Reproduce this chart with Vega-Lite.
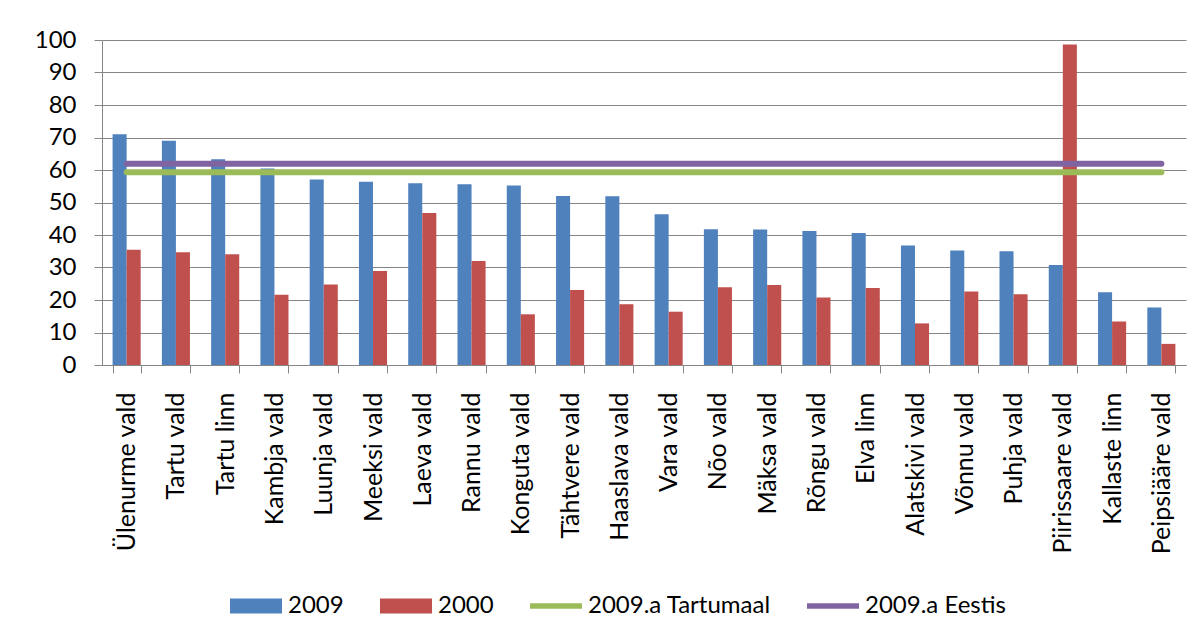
{
  "$schema": "https://vega.github.io/schema/vega-lite/v6.json",
  "width": 1084,
  "height": 325,
  "autosize": {"type": "none"},
  "padding": {"left": 102, "top": 40, "right": 18, "bottom": 276},
  "background": "white",
  "config": {
    "font": "Lato",
    "view": {"stroke": null},
    "axis": {"labelFont": "Lato", "labelFontSize": 24, "labelColor": "#000000", "domainColor": "#868686", "tickColor": "#868686", "gridColor": "#868686", "gridOpacity": 1, "domainWidth": 1, "tickWidth": 1, "gridWidth": 1},
    "legend": {"labelFont": "Lato", "labelFontSize": 24, "labelColor": "#000000", "padding": 0, "labelLimit": 400}
  },
  "datasets": {
    "tulbad": [
      {"vald": "Ülenurme vald", "seeria": "2009", "vaartus": 71.0},
      {"vald": "Ülenurme vald", "seeria": "2000", "vaartus": 35.5},
      {"vald": "Tartu vald", "seeria": "2009", "vaartus": 69.0},
      {"vald": "Tartu vald", "seeria": "2000", "vaartus": 34.7},
      {"vald": "Tartu linn", "seeria": "2009", "vaartus": 63.3},
      {"vald": "Tartu linn", "seeria": "2000", "vaartus": 34.1},
      {"vald": "Kambja vald", "seeria": "2009", "vaartus": 60.5},
      {"vald": "Kambja vald", "seeria": "2000", "vaartus": 21.6},
      {"vald": "Luunja vald", "seeria": "2009", "vaartus": 57.1},
      {"vald": "Luunja vald", "seeria": "2000", "vaartus": 24.8},
      {"vald": "Meeksi vald", "seeria": "2009", "vaartus": 56.4},
      {"vald": "Meeksi vald", "seeria": "2000", "vaartus": 28.9},
      {"vald": "Laeva vald", "seeria": "2009", "vaartus": 55.9},
      {"vald": "Laeva vald", "seeria": "2000", "vaartus": 46.8},
      {"vald": "Rannu vald", "seeria": "2009", "vaartus": 55.6},
      {"vald": "Rannu vald", "seeria": "2000", "vaartus": 32.0},
      {"vald": "Konguta vald", "seeria": "2009", "vaartus": 55.2},
      {"vald": "Konguta vald", "seeria": "2000", "vaartus": 15.6},
      {"vald": "Tähtvere vald", "seeria": "2009", "vaartus": 52.0},
      {"vald": "Tähtvere vald", "seeria": "2000", "vaartus": 23.1},
      {"vald": "Haaslava vald", "seeria": "2009", "vaartus": 51.9},
      {"vald": "Haaslava vald", "seeria": "2000", "vaartus": 18.7},
      {"vald": "Vara vald", "seeria": "2009", "vaartus": 46.4},
      {"vald": "Vara vald", "seeria": "2000", "vaartus": 16.4},
      {"vald": "Nõo vald", "seeria": "2009", "vaartus": 41.8},
      {"vald": "Nõo vald", "seeria": "2000", "vaartus": 23.9},
      {"vald": "Mäksa vald", "seeria": "2009", "vaartus": 41.7},
      {"vald": "Mäksa vald", "seeria": "2000", "vaartus": 24.6},
      {"vald": "Rõngu vald", "seeria": "2009", "vaartus": 41.2},
      {"vald": "Rõngu vald", "seeria": "2000", "vaartus": 20.8},
      {"vald": "Elva linn", "seeria": "2009", "vaartus": 40.6},
      {"vald": "Elva linn", "seeria": "2000", "vaartus": 23.7},
      {"vald": "Alatskivi vald", "seeria": "2009", "vaartus": 36.8},
      {"vald": "Alatskivi vald", "seeria": "2000", "vaartus": 12.8},
      {"vald": "Võnnu vald", "seeria": "2009", "vaartus": 35.2},
      {"vald": "Võnnu vald", "seeria": "2000", "vaartus": 22.6},
      {"vald": "Puhja vald", "seeria": "2009", "vaartus": 35.0},
      {"vald": "Puhja vald", "seeria": "2000", "vaartus": 21.8},
      {"vald": "Piirissaare vald", "seeria": "2009", "vaartus": 30.8},
      {"vald": "Piirissaare vald", "seeria": "2000", "vaartus": 98.6},
      {"vald": "Kallaste linn", "seeria": "2009", "vaartus": 22.4},
      {"vald": "Kallaste linn", "seeria": "2000", "vaartus": 13.4},
      {"vald": "Peipsiääre vald", "seeria": "2009", "vaartus": 17.7},
      {"vald": "Peipsiääre vald", "seeria": "2000", "vaartus": 6.5}
    ],
    "jooned": [
      {"vald": "Ülenurme vald", "seeria": "2009.a Tartumaal", "vaartus": 59.3},
      {"vald": "Peipsiääre vald", "seeria": "2009.a Tartumaal", "vaartus": 59.3},
      {"vald": "Ülenurme vald", "seeria": "2009.a Eestis", "vaartus": 61.9},
      {"vald": "Peipsiääre vald", "seeria": "2009.a Eestis", "vaartus": 61.9}
    ]
  },
  "encoding": {
    "x": {
      "field": "vald", "type": "nominal", "sort": null,
      "scale": {"domain": ["Ülenurme vald","Tartu vald","Tartu linn","Kambja vald","Luunja vald","Meeksi vald","Laeva vald","Rannu vald","Konguta vald","Tähtvere vald","Haaslava vald","Vara vald","Nõo vald","Mäksa vald","Rõngu vald","Elva linn","Alatskivi vald","Võnnu vald","Puhja vald","Piirissaare vald","Kallaste linn","Peipsiääre vald"], "paddingInner": 0.43, "paddingOuter": 0.215},
      "axis": {"title": null, "labelAngle": -90, "labelAlign": "right", "labelBaseline": "middle", "labelFontSize": 25, "tickSize": 8, "tickBand": "extent", "labelPadding": 19, "grid": false, "labelLimit": 300}
    },
    "y": {
      "field": "vaartus", "type": "quantitative",
      "scale": {"domain": [0, 100], "nice": false},
      "axis": {"title": null, "values": [0,10,20,30,40,50,60,70,80,90,100], "tickSize": 8, "labelPadding": 18, "grid": true}
    },
    "color": {
      "field": "seeria", "type": "nominal",
      "scale": {"domain": ["2009", "2000", "2009.a Tartumaal", "2009.a Eestis"], "range": ["#4F81BD", "#C0504D", "#9BBB59", "#8064A2"]},
      "legend": {
        "title": null, "orient": "none", "direction": "horizontal", "columns": 4,
        "legendX": 128, "legendY": 540,
        "symbolSize": 2704, "labelOffset": 6, "columnPadding": 36,
        "symbolStrokeWidth": 0,
        "encode": {
          "symbols": {"update": {
            "shape": {"signal": "indexof(['2009','2000'], datum.value) >= 0 ? 'M-1,-0.29H1V0.29H-1Z' : 'M-1,-0.11H1V0.11H-1Z'"},
            "fill": {"scale": "color", "field": "value"},
            "fillOpacity": {"value": 1},
            "opacity": {"value": 1},
            "strokeWidth": {"value": 0}
          }}
        }
      }
    }
  },
  "layer": [
    {
      "data": {"name": "tulbad"},
      "mark": {"type": "bar"},
      "encoding": {
        "xOffset": {"field": "seeria", "type": "nominal", "sort": ["2009", "2000"], "scale": {"domain": ["2009", "2000"], "paddingInner": 0, "paddingOuter": 0}}
      }
    },
    {
      "data": {"name": "jooned"},
      "mark": {"type": "line", "strokeWidth": 6, "strokeCap": "round"},
      "encoding": {"detail": {"field": "seeria"}}
    }
  ]
}
